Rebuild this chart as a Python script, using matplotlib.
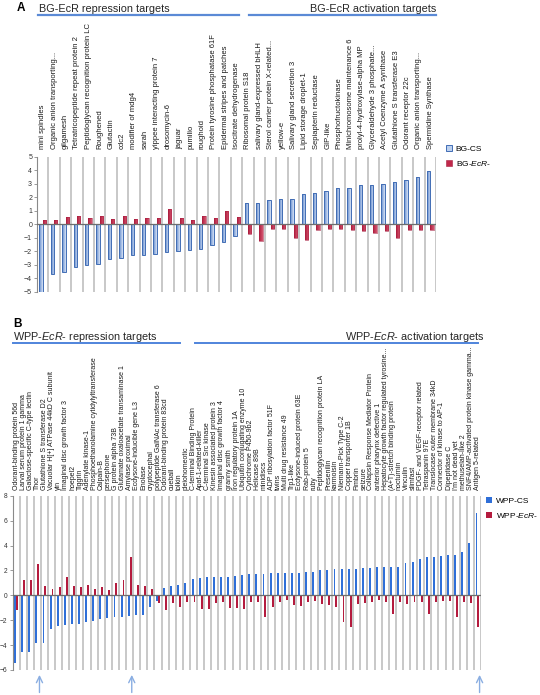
import numpy as np
import matplotlib.pyplot as plt
from matplotlib.patches import Patch
from matplotlib.lines import Line2D
from matplotlib.colors import LinearSegmentedColormap

plt.rcParams['font.family'] = ['Liberation Sans', 'DejaVu Sans']
plt.rcParams['mathtext.fontset'] = 'custom'
plt.rcParams['mathtext.rm'] = 'Liberation Sans'
plt.rcParams['mathtext.it'] = 'Liberation Sans:italic'

# ---- panel A data (BG) ----
a_genes = ['mini spindles', 'Organic anion transporting...', 'gilgamesh',
           'Tetratricopeptide repeat protein 2', 'Peptidoglycan recognition protein LC',
           'Roughened', 'Glutactin', 'cdc2', 'modifier of mdg4', 'sarah',
           'yippee interacting protein 7', 'drosomycin-6', 'jaguar', 'pumilio', 'roughoid',
           'Protein tyrosine phosphatase 61F', 'Epidermal stripes and patches',
           'Isocitrate dehydrogenase', 'Ribosomal protein S18', 'salivary gland-expressed bHLH',
           'Sterol carrier protein X-related...', 'yellow-e', 'Salivary gland secretion 3',
           'Lipid storage droplet-1', 'Sepiapterin reductase', 'GIP-like', 'Phosphofructokinase',
           'Minichromosome maintenance 6', 'prolyl-4-hydroxylase-alpha MP',
           'Glyceraldehyde 3 phosphate...', 'Acetyl Coenzyme A synthase',
           'Glutathione S transferase E3', 'Odorant receptor 22c',
           'Organic anion transporting...', 'Spermidine Synthase']
a_cs = [-5.0, -3.7, -3.5, -3.18, -3.0, -2.95, -2.56, -2.5, -2.24, -2.24, -2.2, -2.07,
        -1.97, -1.92, -1.85, -1.53, -1.33, -0.89, 1.6, 1.6, 1.8, 1.85, 1.85, 2.24, 2.34,
        2.5, 2.68, 2.68, 2.88, 2.9, 2.95, 3.13, 3.3, 3.47, 3.92]
a_ecr = [0.35, 0.35, 0.55, 0.62, 0.45, 0.65, 0.4, 0.63, 0.4, 0.47, 0.5, 1.1, 0.47, 0.33,
         0.62, 0.45, 0.97, 0.52, -0.75, -1.25, -0.37, -0.37, -1.0, -1.16, -0.42, -0.32,
         -0.37, -0.39, -0.52, -0.64, -0.52, -1.0, -0.44, -0.42, -0.44]

# ---- panel B data (WPP) ----
b_genes = ['Odorant-binding protein 56d', 'Larval serum protein 1 gamma',
           'Galactose-specific C-type lectin', 'Thor', 'Glutathione S transferase D2',
           'Vacuolar H[+] ATPase 44kD C subunit', 'yin', 'Imaginal disc growth factor 3',
           'hoepel2', 'Tiggrin', 'Adenylate kinase-1',
           'Phosphoethanolamine cytidylyltransferase', 'Calpain-B', 'persephone',
           'G protein alpha 73B', 'Glutamate oxaloacetate transaminase 1', 'Amylase proximal',
           'Ecdysone-inducible gene L3', 'Enolase', 'cryptocephal',
           'polypeptide GalNAc transferase 6', 'Odorant-binding protein 83cd', 'cueball',
           'tolkin', 'pleiohomeotic', 'C-terminal Binding Protein', 'Apaf-1-related-killer',
           'C-terminal Src kinase', 'Kinesin associated protein 3',
           'Imaginal disc growth factor 4', 'granny smith', 'Iron regulatory protein 1A',
           'Ubiquitin conjugating enzyme 10', 'Cytochrome P450-9b2', 'Helicase 89B',
           'minidiscs', 'ADP ribosylation factor 51F', 'twins', 'Multi drug resistance 49',
           'Trp1-like', 'Ecdysone-induced protein 63E', 'Rab-protein 5', 'ruby',
           'Peptidoglycan recognition protein LA', 'Presenilin', 'karmoisin',
           'Niemann-Pick Type C-2', 'Copper transporter 1B', 'Fimbrin', 'seizure',
           'Collapsin Response Mediator Protein', 'anterior pharynx defective 1',
           'Hepatocyte growth factor regulated tyrosine...', '(A+T)-stretch binding protein',
           'nocturnin', 'Vinculin', 'slimfast', 'PDGF- and VEGF-receptor related',
           'Tetraspanin 97E', 'Translocase outer membrane 34kD', 'Connector of kinase to AP-1',
           'Dipeptidase C', "I'm not dead yet", 'methuselah-like 2',
           'SNF4/AMP-activated protein kinase gamma...', 'Antigen 5-related']
b_cs = [-5.45, -4.57, -4.55, -3.85, -3.8, -2.7, -2.43, -2.35, -2.27, -2.27, -2.14, -2.06,
        -1.87, -1.85, -1.76, -1.71, -1.66, -1.6, -1.6, -0.9, -0.45, 0.59, 0.78, 0.83, 1.02,
        1.28, 1.39, 1.44, 1.47, 1.47, 1.5, 1.58, 1.63, 1.68, 1.71, 1.74, 1.76, 1.79, 1.82,
        1.82, 1.82, 1.87, 1.87, 2.0, 2.06, 2.09, 2.09, 2.11, 2.11, 2.17, 2.17, 2.27, 2.27,
        2.3, 2.3, 2.57, 2.7, 2.89, 3.05, 3.07, 3.16, 3.21, 3.26, 3.45, 4.2, 6.63]
b_ecr = [-1.18, 1.2, 1.2, 2.49, 0.78, 0.48, 0.7, 1.5, 0.78, 0.67, 0.86, 0.48, 0.64, 0.4,
         0.96, 1.23, 3.07, 0.8, 0.72, 0.53, -0.6, -1.18, -0.64, -0.9, -0.53, -0.53, -1.07,
         -1.12, -0.6, -0.53, -0.99, -1.04, -1.12, -0.5, -0.53, -1.76, -0.96, -0.56, -0.37,
         -0.78, -0.83, -0.53, -0.45, -0.72, -0.78, -0.9, -2.17, -2.57, -0.67, -0.61, -0.53,
         -0.37, -0.5, -1.5, -0.5, -0.7, -0.5, -0.53, -1.47, -0.5, -0.43, -0.43, -1.76, -0.5,
         -0.64, -2.57]
b_arrows = ['Thor', 'Amylase proximal', 'Antigen 5-related']

W, H = 540, 695
fig = plt.figure(figsize=(W / 100, H / 100), dpi=100)


def px_axes(l, t, r, b):
    return fig.add_axes([l / W, 1 - b / H, (r - l) / W, (b - t) / H])


def fx(x):
    return x / W


def fy(y):
    return 1 - y / H


def shade(ax, bars, c0, c1):
    # horizontal gradient inside each bar
    cmap = LinearSegmentedColormap.from_list('g', [c0, c1])
    grad = np.linspace(0, 1, 16).reshape(1, -1)
    for p in bars:
        x0, y0, w, h = p.get_x(), p.get_y(), p.get_width(), p.get_height()
        im = ax.imshow(grad, cmap=cmap, extent=[x0, x0 + w, y0, y0 + h],
                       aspect='auto', zorder=p.get_zorder() - 0.1, interpolation='bilinear')
        im.set_clip_path(p)
        p.set_facecolor('none')


def setup(ax, genes, ylim, yticks, lab_fs, lab_pad, tick_fs):
    n = len(genes)
    x = np.arange(n)
    ax.set_xlim(-0.5, n - 0.5)
    ax.set_ylim(*ylim)
    ax.set_yticks(yticks)
    ax.set_xticks(x)
    ax.set_xticklabels(genes, rotation=90, fontsize=lab_fs, color='#1a1a1a')
    ax.xaxis.tick_top()
    ax.tick_params(axis='x', length=0, pad=lab_pad)
    ax.set_xticks(np.arange(n + 1) - 0.5, minor=True)
    ax.tick_params(axis='x', which='minor', length=0)
    ax.grid(which='minor', axis='x', color='#c4c4c4', lw=1.3)
    ax.set_axisbelow(True)
    ax.axhline(0, color='#6e6e6e', lw=0.9, zorder=3)
    for s in ['top', 'right', 'bottom']:
        ax.spines[s].set_visible(False)
    ax.spines['left'].set_color('#8a8a8a')
    ax.spines['left'].set_linewidth(0.8)
    ax.tick_params(axis='y', length=2, width=0.6, color='#8a8a8a', labelsize=tick_fs,
                   labelcolor='#333333', pad=1.5)
    return x


# ---------------- Panel A ----------------
axA = px_axes(37, 156.7, 436, 292)
xa = setup(axA, a_genes, (-5, 5), range(-5, 6), 5.5, 5.5, 5)
wa = 0.29
bars_cs = axA.bar(xa - wa / 2, a_cs, wa, edgecolor='#416db5', linewidth=0.7, zorder=2)
bars_ecr = axA.bar(xa + wa / 2, a_ecr, wa, edgecolor='#a81f42', linewidth=0.4, zorder=2)
shade(axA, bars_cs, '#5f88cc', '#d3e0f4')
shade(axA, bars_ecr, '#b01c3c', '#d45670')
axA.set_xlim(-0.5, len(a_genes) - 0.5)
axA.set_ylim(-5, 5)

axA.legend(handles=[Patch(facecolor='#bcd0ee', edgecolor='#416db5', lw=0.7, label='BG-CS'),
                    Patch(facecolor='#c0284a', edgecolor='#a81f42', lw=0.4,
                          label='BG-$\\mathit{EcR}$-')],
           loc='upper left', bbox_to_anchor=(fx(446), fy(145)),
           bbox_transform=fig.transFigure, frameon=False, fontsize=6,
           handlelength=0.75, handleheight=0.75, handletextpad=0.4,
           labelspacing=0.75, borderpad=0, borderaxespad=0)

fig.text(fx(17), fy(8), 'A', fontsize=8.5, fontweight='bold', va='center')
fig.text(fx(39), fy(9), 'BG-EcR repression targets', fontsize=7.8, va='center',
         color='#262626')
fig.text(fx(436), fy(9), 'BG-EcR activation targets', fontsize=7.8, va='center',
         ha='right', color='#262626')
for x0, x1 in [(38, 239), (249, 436)]:
    fig.add_artist(Line2D([fx(x0), fx(x1)], [fy(15), fy(15)], color='#5b8ad6', lw=1.6))

# ---------------- Panel B ----------------
axB = px_axes(12.5, 495.7, 481, 670)
xb = setup(axB, b_genes, (-6, 8), range(-6, 9, 2), 5.0, 4, 4.8)
wb = 0.27
axB.bar(xb - wb / 2, b_cs, wb, color='#2f6fd8', zorder=2)
axB.bar(xb + wb / 2, b_ecr, wb, color='#b41b3e', zorder=2)

for g in b_arrows:
    i = b_genes.index(g) + 0.3
    axB.annotate('', xy=(i, -0.012), xytext=(i, -0.145),
                 xycoords=axB.get_xaxis_transform(), textcoords=axB.get_xaxis_transform(),
                 arrowprops=dict(arrowstyle='->,head_length=0.45,head_width=0.22',
                                 color='#8aaee2', lw=1.0), annotation_clip=False)

axB.legend(handles=[Patch(facecolor='#2f6fd8', label='WPP-CS'),
                    Patch(facecolor='#b41b3e', label='WPP-$\\mathit{EcR}$-')],
           loc='upper left', bbox_to_anchor=(fx(486), fy(497)),
           bbox_transform=fig.transFigure, frameon=False, fontsize=6,
           handlelength=0.75, handleheight=0.75, handletextpad=0.4,
           labelspacing=0.75, borderpad=0, borderaxespad=0)

fig.text(fx(13), fy(324), 'B', fontsize=8.5, fontweight='bold', va='center')
fig.text(fx(13), fy(337), 'WPP-$\\mathit{EcR}$- repression targets', fontsize=7.8,
         va='center', color='#262626')
fig.text(fx(484), fy(337), 'WPP-$\\mathit{EcR}$- activation targets', fontsize=7.8,
         va='center', ha='right', color='#262626')
for x0, x1 in [(13, 180), (195, 478)]:
    fig.add_artist(Line2D([fx(x0), fx(x1)], [fy(343), fy(343)], color='#4f84dc', lw=1.4))

fig.savefig('out.png', dpi=100)
